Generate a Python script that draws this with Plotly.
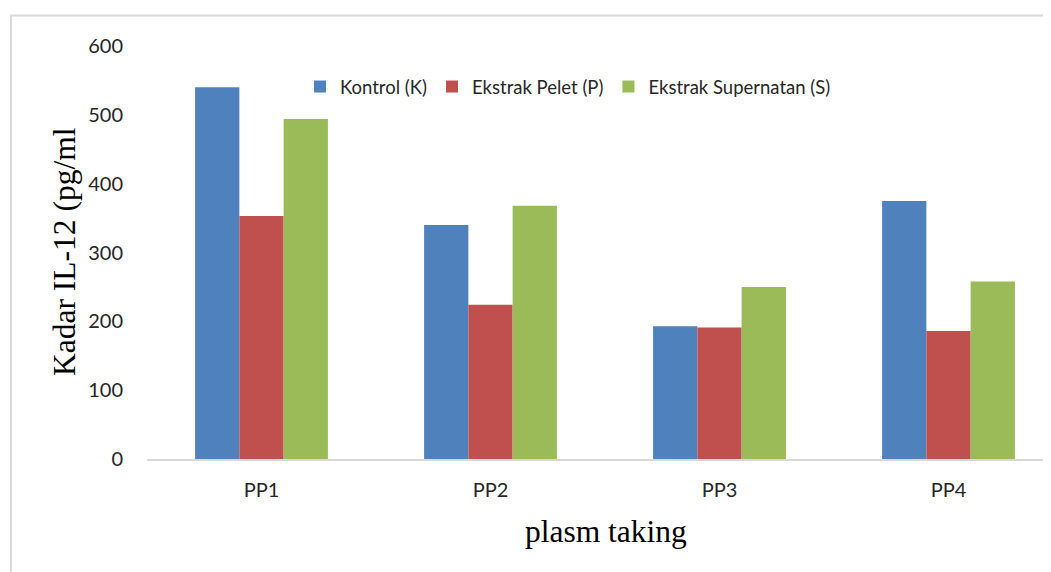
import plotly.graph_objects as go

categories = ["PP1", "PP2", "PP3", "PP4"]
kontrol = [540, 340, 193, 375]
pelet = [353, 224, 191, 186]
supernatan = [494, 368, 250, 258]
series_names = ["Kontrol (K)", "Ekstrak Pelet (P)", "Ekstrak Supernatan (S)"]
colors = ["#4F81BD", "#C0504D", "#9BBB59"]

fig = go.Figure()
for name, vals, c in zip(series_names, [kontrol, pelet, supernatan], colors):
    fig.add_trace(go.Bar(x=categories, y=vals, name=name, marker=dict(color=c, line=dict(width=0))))

# page renders the figure offset by 8px; all pixel positions below are figure coords
W, H = 1051, 572
ml, mr, mt, mb = 139, 8, 38, 121
pw, ph = W - ml - mr, H - mt - mb

def px2paper_x(px):
    return (px - ml) / pw

def px2paper_y(py):
    return (H - mb - py) / ph

serif = "Liberation Serif, Times New Roman, serif"

fig.update_layout(
    width=W, height=H,
    margin=dict(l=ml, r=mr, t=mt, b=mb),
    paper_bgcolor="white", plot_bgcolor="white",
    barmode="group", bargap=0.42, bargroupgap=0,
    font=dict(family="Lato, Open Sans, sans-serif", size=16, color="#404040"),
    showlegend=True,
    legend=dict(orientation="h", x=px2paper_x(292), y=px2paper_y(79), xanchor="left", yanchor="middle",
                font=dict(size=18.5, color="#262626"), bgcolor="rgba(0,0,0,0)", itemwidth=30, tracegroupgap=0),
    xaxis=dict(range=[-0.5, -0.5 + pw / 229.0], showgrid=False, showline=True, linecolor="#d9d9d9", linewidth=1.5,
               ticks="outside", ticklen=12, tickcolor="rgba(0,0,0,0)", zeroline=False,
               tickfont=dict(size=20, color="#262626")),
    yaxis=dict(range=[0, 600], dtick=100, showgrid=False, showline=False, zeroline=False,
               ticks="outside", ticklen=19, tickcolor="rgba(0,0,0,0)",
               tickfont=dict(size=20, color="#262626")),
    annotations=[
        dict(text="plasm taking", xref="paper", yref="paper", x=px2paper_x(598), y=px2paper_y(523),
             xanchor="center", yanchor="middle", showarrow=False,
             font=dict(family=serif, size=31.5, color="#000")),
        dict(text="Kadar IL-12 (pg/ml", xref="paper", yref="paper", x=px2paper_x(56), y=px2paper_y(244),
             xanchor="center", yanchor="middle", showarrow=False, textangle=-90,
             font=dict(family=serif, size=31.5, color="#000")),
    ],
    shapes=[dict(type="rect", xref="paper", yref="paper",
                 x0=px2paper_x(3), y0=px2paper_y(620), x1=px2paper_x(1100), y1=px2paper_y(7.5),
                 line=dict(color="#d9d9d9", width=2), fillcolor="rgba(0,0,0,0)", layer="below")],
)

fig.write_html("out.html")
